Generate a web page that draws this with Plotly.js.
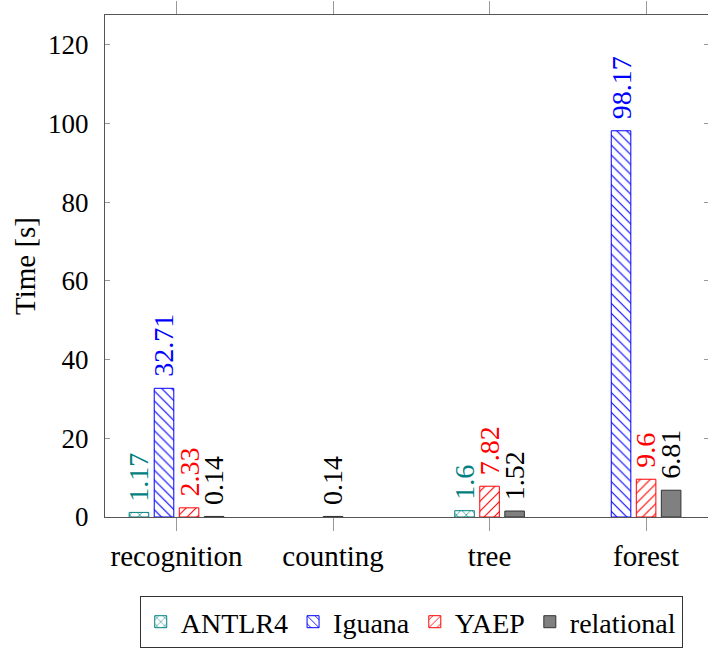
<!DOCTYPE html>
<html>
<head>
<meta charset="utf-8">
<script src="https://cdn.plot.ly/plotly-3.0.1.min.js"></script>
<style>html,body{margin:0;padding:0;overflow:hidden;background:#fff;}</style>
</head>
<body>
<div id="chart"></div>
<script>
// ---- data ----
const categories = ["recognition", "counting", "tree", "forest"];
const seriesNames = ["ANTLR4", "Iguana", "YAEP", "relational"];
const antlr4 = [1.17, null, 1.6, null];
const iguana = [32.71, null, null, 98.17];
const yaep = [2.33, null, 7.82, 9.6];
const relational = [0.14, 0.14, 1.52, 6.81];
const yTicks = [0, 20, 40, 60, 80, 100, 120];

// ---- styles ----
const seriesValues = [antlr4, iguana, yaep, relational];
const lineColors = ["#008080", "#0000ff", "#ff0000", "#333333"];
const labelColors = ["#008080", "#0000ff", "#ff0000", "#000000"];
const patterns = [
  {shape: "x", fgcolor: "#008080", bgcolor: "#ffffff", size: 7, solidity: 0.18},
  {shape: "\\", fgcolor: "#0000ff", bgcolor: "#ffffff", size: 7, solidity: 0.16},
  {shape: "/", fgcolor: "#ff0000", bgcolor: "#ffffff", size: 7, solidity: 0.16},
  {shape: "", fgcolor: "#808080", bgcolor: "#808080", size: 7, solidity: 0.2}
];
const fillColors = ["#ffffff", "#ffffff", "#ffffff", "#808080"];
const step = 0.16, barW = 0.125;
const FONT = "Liberation Serif";

// positions: bars present in each category are centred on the category
const posX = seriesValues.map(() => categories.map(() => null));
categories.forEach((c, i) => {
  const present = [];
  seriesValues.forEach((vals, s) => { if (vals[i] !== null) present.push(s); });
  present.forEach((s, k) => {
    posX[s][i] = i + (k - (present.length - 1) / 2) * step;
  });
});

const traces = [];
const annotations = [];
seriesValues.forEach((vals, s) => {
  const xs = [], ys = [];
  vals.forEach((v, i) => {
    if (v === null) return;
    xs.push(posX[s][i]); ys.push(v);
    annotations.push({
      x: posX[s][i], y: v, xref: "x", yref: "y",
      text: String(v), showarrow: false, textangle: -90,
      xanchor: "center", yanchor: "bottom", yshift: 9,
      font: {family: FONT, size: 28, color: labelColors[s]}
    });
  });
  traces.push({
    type: "bar", name: seriesNames[s], x: xs, y: ys, width: barW,
    marker: {color: fillColors[s], pattern: patterns[s], line: {color: lineColors[s], width: 1}},
    hoverinfo: "none"
  });
});

const layout = {
  width: 709, height: 648,
  margin: {l: 105, r: 0, t: 15, b: 126},
  paper_bgcolor: "#ffffff", plot_bgcolor: "#ffffff",
  barmode: "overlay",
  showlegend: true,
  font: {family: FONT, color: "#000"},
  xaxis: {
    range: [-0.457, 3.402], tickmode: "array",
    tickvals: categories.map((c, i) => i), ticktext: categories,
    ticks: "outside", ticklen: 13, tickcolor: "#999", tickwidth: 1,
    showline: true, linecolor: "#555", linewidth: 1, mirror: "ticks",
    showgrid: false, zeroline: false,
    tickfont: {family: FONT, size: 29, color: "#000"}, ticklabelstandoff: 0
  },
  yaxis: {
    range: [0, 127.6], tickmode: "array", tickvals: yTicks,
    ticks: "inside", ticklen: 5, tickcolor: "#999", tickwidth: 1,
    showline: true, linecolor: "#555", linewidth: 1, mirror: "ticks",
    showgrid: false, zeroline: false,
    tickfont: {family: FONT, size: 27, color: "#000"}, ticklabelstandoff: 10,
    title: {text: "Time [s]", font: {family: FONT, size: 29, color: "#000"}, standoff: 3}
  },
  legend: {
    orientation: "h", x: 0.507, xanchor: "center", y: -0.1578, yanchor: "top",
    bordercolor: "#333", borderwidth: 1, bgcolor: "#fff",
    font: {family: FONT, size: 28, color: "#000"}, itemwidth: 30
  },
  annotations: annotations
};

Plotly.newPlot("chart", traces, layout, {staticPlot: true, displayModeBar: false});
</script>
</body>
</html>
